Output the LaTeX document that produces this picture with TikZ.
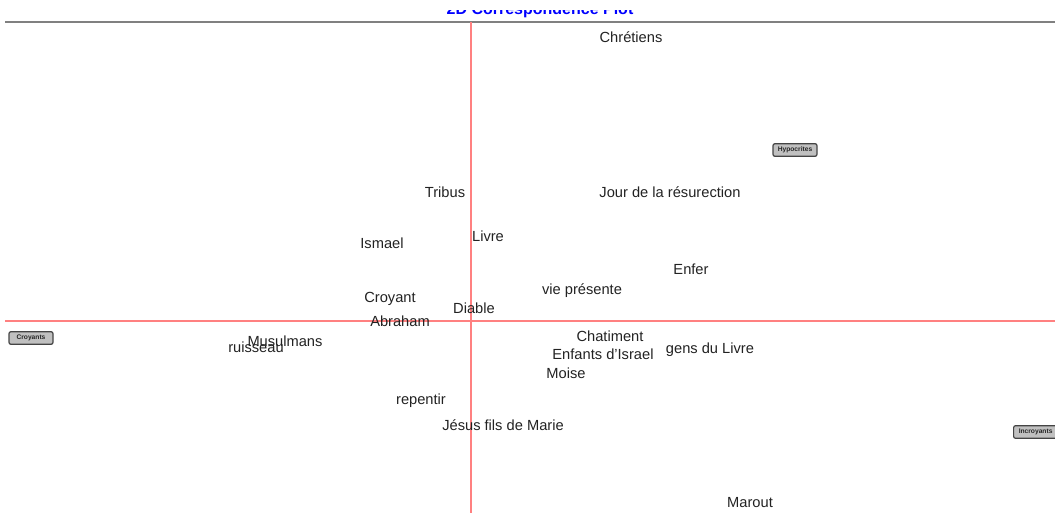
\documentclass[tikz,border=0pt]{standalone}
\usepackage{fontspec}
\setmainfont{Liberation Sans}
\usetikzlibrary{positioning}
\definecolor{CAxis}{HTML}{FF8080}
\definecolor{CFrame}{HTML}{808080}
\definecolor{CText}{HTML}{222222}
\definecolor{CBoxFill}{HTML}{C0C0C0}
\definecolor{CBoxLine}{HTML}{444444}
\tikzset{
    word/.style={
        font=\fontsize{11}{13}\selectfont,
        color=CText,
        inner sep=0pt,
        text height=8pt,
        text depth=0pt
    },
    groupbox/.style={
        rectangle,
        rounded corners=1.5pt,
        draw=CBoxLine,
        fill=CBoxFill,
        line width=0.9pt,
        minimum width=33pt,
        minimum height=9.5pt,
        inner sep=1pt,
        font=\bfseries\fontsize{5}{6}\selectfont,
        text=black!85
    },
    axisline/.style={
        draw=CAxis,
        line width=1.1pt
    }
}

\begin{document}
\begin{tikzpicture}[x=0.75pt, y=-0.75pt]
    \useasboundingbox (0,0) rectangle (1055,512);
    \clip (0,0) rectangle (1055,512);

    % Title (cut off at the top)
    \begin{scope}
        \clip (0,10) rectangle (1055,20);
        \node[anchor=base, font=\bfseries\fontsize{12}{14}\selectfont, color=blue, inner sep=0pt] (title) at (540,14.5) {2D Correspondence Plot};
    \end{scope}

    % Frame and axes
    \draw[CFrame, line width=1.4pt] (5,22) -- (1060,22);
    \draw[axisline] (471,22) -- (471,515);
    \draw[axisline] (5,321) -- (1060,321);

    % Column points
    \node[groupbox] (croyants) at (31,338) {Croyants};
    \node[groupbox] (hypocrites) at (795,150) {Hypocrites};
    \node[groupbox, anchor=west] (incroyants) at (1013,432) {Incroyants};

    % Row points
    \node[word] (chretiens) at (631,37) {Chrétiens};
    \node[word] (tribus) at (445,192) {Tribus};
    \node[word] (jour) at (670,192) {Jour de la résurection};
    \node[word] (ismael) at (382,243) {Ismael};
    \node[word] (livre) at (488,236) {Livre};
    \node[word] (enfer) at (691,269) {Enfer};
    \node[word] (vie) at (582,289) {vie présente};
    \node[word] (croyant) at (390,297) {Croyant};
    \node[word] (diable) at (474,308) {Diable};
    \node[word] (abraham) at (400,321) {Abraham};
    \node[word] (musulmans) at (285,341) {Musulmans};
    \node[word] (ruisseau) at (256,347) {ruisseau};
    \node[word] (chatiment) at (610,336) {Chatiment};
    \node[word] (enfants) at (603,354) {Enfants d'Israel};
    \node[word] (gens) at (710,348) {gens du Livre};
    \node[word] (moise) at (566,373) {Moise};
    \node[word] (repentir) at (421,399) {repentir};
    \node[word] (jesus) at (503,425) {Jésus fils de Marie};
    \node[word] (marout) at (750,502) {Marout};
\end{tikzpicture}
\end{document}
